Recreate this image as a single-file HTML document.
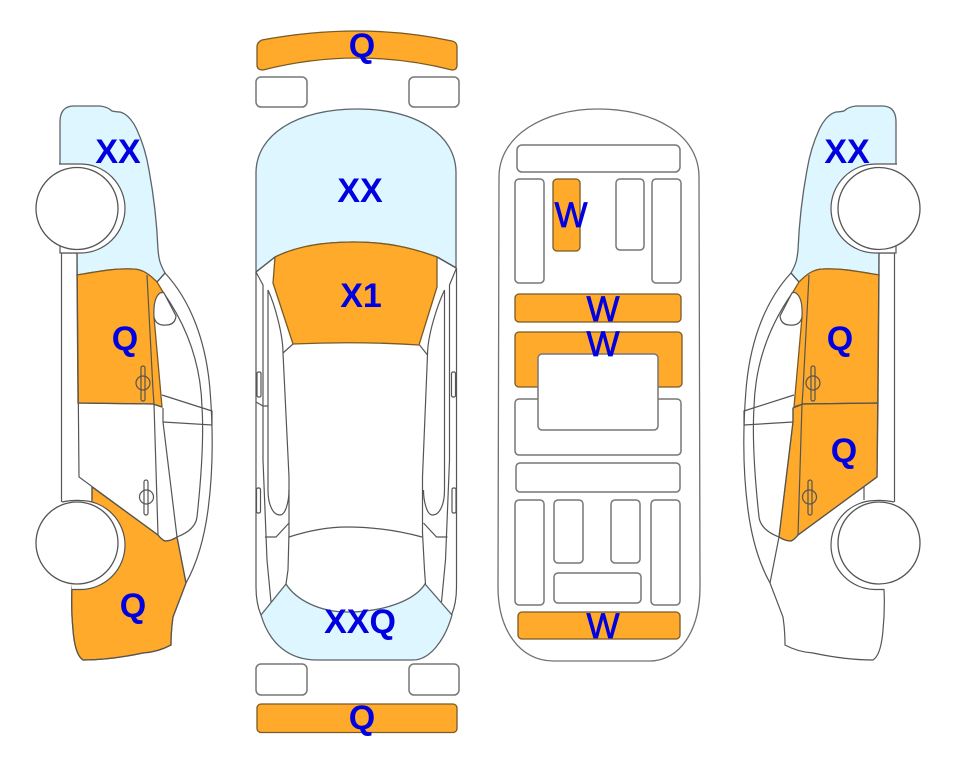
<!DOCTYPE html>
<html>
<head>
<meta charset="utf-8">
<style>
html,body{margin:0;padding:0;background:#fff;width:963px;height:768px;overflow:hidden}
svg{display:block}
text{font-family:"Liberation Sans",sans-serif;font-weight:bold;font-size:34px;fill:#0000e0;text-anchor:middle}
text.w{font-weight:normal;font-size:35px;stroke:#0000e0;stroke-width:.7}
.l{fill:none;stroke:#555;stroke-width:1.2}
.r{fill:#fff;stroke:#777;stroke-width:1.5}
.o{fill:#ffaa2a;stroke:#7a5a25;stroke-width:1.3}
.b{fill:#def6ff;stroke:#5c6468;stroke-width:1.3}
</style>
</head>
<body>
<svg width="963" height="768" viewBox="0 0 963 768" xmlns="http://www.w3.org/2000/svg">
<defs>
<g id="car">
  <path class="l" d="M61.5,253V502M77,253L79,477L158,535Q162,540 165,541Q171,541 177,537C190,532 196,525 197,517C201,480 204,440 202,407C201,370 190,330 163,292"/>
  <path class="l" d="M92,487V500"/>
  <path class="l" d="M165,273C190,300 206,340 210,390C214,440 212,480 208,510C204,540 196,565 186,583L173,617Q171,630 171,645Q158,652 143,653Q110,660 83,660Q75,655 73,630Q71,610 72,589"/>
  <path class="l" d="M147,275L153,390L154,404L158,535M163,408L163,422L177,537L186,583M78,403L153,404L162,407"/>
  <path class="l" d="M162,395L212,411L212,425L163,422"/>
  <path class="l" d="M157,282L165,273"/>
  <path d="M154,317Q153,298 160,293Q162,292 164,293L176,316Q175,325 166,325Q156,326 154,317Z" fill="#fff" stroke="#555" stroke-width="1.2"/>
  <rect class="l" x="141" y="366" width="4" height="35" rx="2"/>
  <circle class="l" cx="143" cy="383" r="7"/>
  <rect class="l" x="144" y="480" width="4" height="35" rx="2"/>
  <circle class="l" cx="146.500" cy="497" r="7"/>
  <path d="M59,164H80.500A44.500,44.500 0 0 1 80.500,253H61Z" fill="#fff" stroke="none"/>
  <path class="l" d="M59,164H80.500A44.500,44.500 0 0 1 80.500,253H61"/>
  <path d="M62,502Q72,500 80.500,500.500A44.500,44.500 0 0 1 80.500,589.500H72Z" fill="#fff" stroke="none"/>
  <path class="l" d="M62,502Q72,500 80.500,500.500A44.500,44.500 0 0 1 80.500,589.500H72"/>
  <circle cx="77" cy="208.500" r="41" fill="#fff" stroke="#555" stroke-width="1.3"/>
  <circle cx="77" cy="543" r="41" fill="#fff" stroke="#555" stroke-width="1.3"/>
</g>
<path id="hood" class="b" d="M60,172V122Q60,106 74,106H100Q108,107 112,111Q117,112 120,112C128,114 134,123 137,130C143,143 147,158 149,170C154,197 157,225 158,250C159,260 160,264 165,273L157,282C150,275 143,269 133,269C115,268 95,272 77,275V253H60Z"/>
<path id="door1" class="o" d="M77,275C95,272 115,268 133,269C143,269 150,275 157,282L163,292L154,317L162,407L153,404L78,403Z"/>
</defs>

<!-- left car -->
<use href="#hood"/>
<use href="#door1"/>
<path class="o" d="M92,487L158,535Q162,540 165,541Q171,541 177,537L186,583L173,617Q171,630 171,645Q158,652 143,653Q110,660 83,660Q75,655 73,630Q71,610 72,585L92,500Z"/>
<use href="#car"/>

<!-- right car -->
<g transform="matrix(-1 0 0 1 956 0)">
  <use href="#hood"/>
  <use href="#door1"/>
  <path class="o" d="M163,408L153,404L78,403L79,477L158,535Q162,540 165,541Q171,541 177,537L163,422Z"/>
  <use href="#car"/>
</g>

<!-- top view car -->
<path class="o" d="M257,47Q257,42 262,40Q310,31 357,31Q405,31 452,41Q457,42 457,47V65Q457,70 452,70Q405,58 357,58Q310,58 263,70Q257,70 257,65Z"/>
<rect class="r" x="256" y="77" width="51" height="30" rx="5"/>
<rect class="r" x="409" y="77" width="50" height="30" rx="5"/>
<path class="b" d="M256,272V173C256,134 298,109 357,109C416,109 456,134 456,173V268L437,257C410,247 385,242 353,242C320,242 295,247 275,257Z"/>
<path class="o" d="M275,257C295,247 320,242 353,242C385,242 410,247 437,257L437,287L419,345Q357,341 293,344L273,283Z"/>
<path class="b" d="M261,615L286,584C296,600 320,612 347,612C385,612 415,600 425,584L452,615C445,640 430,660 413,660H317C290,660 270,645 261,615Z"/>
<g id="topside">
  <path class="l" d="M256,272V587C256,600 258,608 261,615"/>
  <path class="l" d="M256,272L275,257M256,272L263,285V460L267,560L271,602"/>
  <path class="l" d="M268,290V490C268,505 273,515 280,515C286,515 289,500 289,490"/>
  <path class="l" d="M268,290C275,305 283,335 283,353L289,477V533L288,570L286,584"/>
  <path class="l" d="M283,353L293,344"/>
  <path class="l" d="M256,402L263,406H268M265,537H276L289,523"/>
  <rect class="l" x="257" y="372" width="4" height="25" rx="1.500"/>
  <rect class="l" x="256.500" y="488" width="4" height="25" rx="1.500"/>
</g>
<g transform="matrix(-1 0 0 1 712.500 0)">
  <path class="l" d="M256,268V587C256,600 258,608 261,615"/>
  <path class="l" d="M256,268L275,257M256,268L263,285V460L267,560L271,602"/>
  <path class="l" d="M268,290V490C268,505 273,515 280,515C286,515 289,500 289,490"/>
  <path class="l" d="M268,290C275,305 285,335 285,355L290,477V533L288,570L287,584"/>
  <path class="l" d="M285,355L293,345"/>
  <path class="l" d="M265,537H276L289,523"/>
  <rect class="l" x="257" y="372" width="4" height="25" rx="1.500"/>
  <rect class="l" x="256.500" y="488" width="4" height="25" rx="1.500"/>
</g>
<path class="l" d="M289,537Q320,527 347,527Q385,527 422,537"/>
<rect class="r" x="256" y="664" width="51" height="31" rx="5"/>
<rect class="r" x="409" y="664" width="50" height="31" rx="5"/>
<rect class="o" x="257" y="704" width="200" height="28.500" rx="4"/>

<!-- floor plan -->
<path d="M499,177C499,135 545,109 598,109C655,109 699,135 699,177L700,587C700,630 680,661 650,661H553C520,661 498,630 498,587Z" fill="#fff" stroke="#707070" stroke-width="1.300"/>
<rect class="r" x="517" y="145" width="163" height="27" rx="5"/>
<rect class="r" x="515" y="179" width="29" height="104" rx="4"/>
<rect class="o" x="553" y="179" width="27" height="72" rx="4"/>
<rect class="r" x="616" y="179" width="28" height="71" rx="4"/>
<rect class="r" x="652" y="179" width="29" height="104" rx="4"/>
<rect class="o" x="515" y="294" width="166" height="28" rx="4"/>
<rect class="o" x="515" y="332" width="167" height="55" rx="4"/>
<rect class="r" x="515" y="399" width="166" height="56" rx="4"/>
<rect class="r" x="538" y="354" width="120" height="76" rx="4"/>
<rect class="r" x="516" y="463" width="164" height="29" rx="4"/>
<rect class="r" x="515" y="500" width="29" height="105" rx="4"/>
<rect class="r" x="554" y="500" width="29" height="63" rx="4"/>
<rect class="r" x="611" y="500" width="29" height="63" rx="4"/>
<rect class="r" x="651" y="500" width="29" height="105" rx="4"/>
<rect class="r" x="554" y="573" width="87" height="30" rx="4"/>
<rect class="o" x="518" y="612" width="162" height="27" rx="4"/>

<!-- labels -->
<text x="118" y="163">XX</text>
<text x="125" y="350">Q</text>
<text x="133" y="617">Q</text>
<text x="362" y="57">Q</text>
<text x="360" y="202">XX</text>
<text x="361" y="307">X1</text>
<text x="360" y="633">XXQ</text>
<text x="362" y="729">Q</text>
<text class="w" x="571" y="227">W</text>
<text class="w" x="603" y="321">W</text>
<text class="w" x="603" y="356">W</text>
<text class="w" x="603" y="638">W</text>
<text x="847" y="163">XX</text>
<text x="840" y="350">Q</text>
<text x="844" y="462">Q</text>
</svg>
</body>
</html>
